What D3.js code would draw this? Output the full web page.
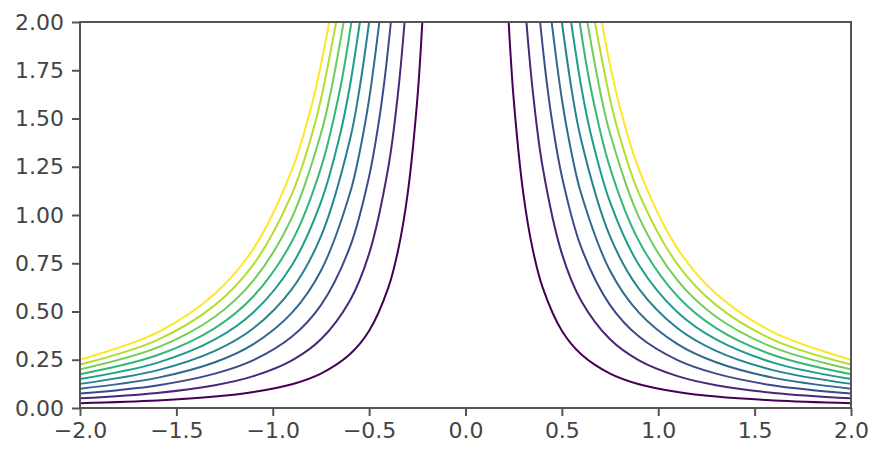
<!DOCTYPE html>
<html lang="en">
<head>
<meta charset="UTF-8">
<title>Contour lines</title>
<script src="https://d3js.org/d3.v7.min.js"></script>
<style>
    body { margin: 0; background: #fff; }
    svg { display: block; }
    .tick text { font-family: "DejaVu Sans", sans-serif; font-size: 22px; fill: #444; }
    .tick line { stroke: #555; stroke-width: 2px; }
    .domain { display: none; }
</style>
</head>
<body>
<div id="chart"></div>
<script>
// contour levels (one line per level, purple -> yellow)
const levels = [0.1, 0.2, 0.3, 0.4, 0.5, 0.6, 0.7, 0.8, 0.9, 1.0];

// right half of each contour line as [x, y]
// (the left half is the mirror image)
const curve01 = [[0.224, 2.0], [0.25, 1.6], [0.3, 1.111], [0.35, 0.816], [0.4, 0.625], [0.5, 0.4], [0.6, 0.278], [0.75, 0.178], [0.9, 0.123], [1.1, 0.083], [1.3, 0.059], [1.6, 0.039], [2.0, 0.025]];
const curve02 = [[0.316, 2.0], [0.35, 1.633], [0.4, 1.25], [0.5, 0.8], [0.6, 0.556], [0.75, 0.356], [0.9, 0.247], [1.1, 0.165], [1.3, 0.118], [1.6, 0.078], [2.0, 0.05]];
const curve03 = [[0.387, 2.0], [0.42, 1.70], [0.45, 1.481], [0.5, 1.2], [0.6, 0.833], [0.75, 0.533], [0.9, 0.370], [1.1, 0.248], [1.3, 0.178], [1.6, 0.117], [2.0, 0.075]];
const curve04 = [[0.447, 2.0], [0.5, 1.6], [0.55, 1.322], [0.6, 1.111], [0.75, 0.711], [0.9, 0.494], [1.1, 0.331], [1.3, 0.237], [1.6, 0.156], [2.0, 0.1]];
const curve05 = [[0.5, 2.0], [0.55, 1.653], [0.6, 1.389], [0.75, 0.889], [0.9, 0.617], [1.1, 0.413], [1.3, 0.296], [1.6, 0.195], [2.0, 0.125]];
const curve06 = [[0.548, 2.0], [0.6, 1.667], [0.65, 1.420], [0.75, 1.067], [0.9, 0.741], [1.1, 0.496], [1.3, 0.355], [1.6, 0.234], [2.0, 0.15]];
const curve07 = [[0.592, 2.0], [0.65, 1.657], [0.75, 1.244], [0.9, 0.864], [1.1, 0.579], [1.3, 0.414], [1.6, 0.273], [2.0, 0.175]];
const curve08 = [[0.632, 2.0], [0.7, 1.633], [0.75, 1.422], [0.9, 0.988], [1.1, 0.661], [1.3, 0.473], [1.6, 0.3125], [2.0, 0.2]];
const curve09 = [[0.671, 2.0], [0.75, 1.6], [0.8, 1.406], [0.9, 1.111], [1.1, 0.744], [1.3, 0.533], [1.6, 0.352], [2.0, 0.225]];
const curve10 = [[0.707, 2.0], [0.75, 1.778], [0.8, 1.5625], [0.9, 1.235], [1.1, 0.826], [1.3, 0.592], [1.6, 0.391], [2.0, 0.25]];
const curves = [curve01, curve02, curve03, curve04, curve05, curve06, curve07, curve08, curve09, curve10];

// tick labels
const xTicks = [-2.0, -1.5, -1.0, -0.5, 0.0, 0.5, 1.0, 1.5, 2.0];
const yTicks = [0.0, 0.25, 0.5, 0.75, 1.0, 1.25, 1.5, 1.75, 2.0];

const width = 871, height = 450;
const margin = { top: 22, right: 20, bottom: 42, left: 80 };

const svg = d3.select("#chart").append("svg")
    .attr("width", width)
    .attr("height", height);

const x = d3.scaleLinear().domain([-2, 2]).range([margin.left, width - margin.right]);
const y = d3.scaleLinear().domain([0, 2]).range([height - margin.bottom, margin.top]);

const color = d3.scaleSequential(d3.interpolateViridis)
    .domain([d3.min(levels), d3.max(levels)]);

const defs = svg.append("defs");
defs.append("clipPath").attr("id", "plot-clip")
    .append("rect")
    .attr("x", margin.left).attr("y", margin.top)
    .attr("width", width - margin.left - margin.right)
    .attr("height", height - margin.top - margin.bottom);

// the source image is a soft, upscaled raster: a light blur mimics it
defs.append("filter").attr("id", "soft")
    .append("feGaussianBlur").attr("stdDeviation", 0.5);

const line = d3.line()
    .x(d => x(d[0]))
    .y(d => y(d[1]))
    .curve(d3.curveCatmullRom);

const lines = svg.append("g")
    .attr("clip-path", "url(#plot-clip)")
    .append("g")
    .attr("filter", "url(#soft)");

curves.forEach((pts, i) => {
    const mirrored = pts.map(p => [-p[0], p[1]]);
    [pts, mirrored].forEach(half => {
        lines.append("path")
            .attr("d", line(half))
            .attr("fill", "none")
            .attr("stroke", color(levels[i]))
            .attr("stroke-width", 2);
    });
});

// axes
svg.append("g")
    .attr("transform", `translate(0,${height - margin.bottom})`)
    .call(d3.axisBottom(x).tickValues(xTicks).tickFormat(d3.format(".1f")).tickSize(8).tickPadding(6));

svg.append("g")
    .attr("transform", `translate(${margin.left},0)`)
    .call(d3.axisLeft(y).tickValues(yTicks).tickFormat(d3.format(".2f")).tickSize(8).tickPadding(8));

// frame
svg.append("rect")
    .attr("x", margin.left).attr("y", margin.top)
    .attr("width", width - margin.left - margin.right)
    .attr("height", height - margin.top - margin.bottom)
    .attr("fill", "none")
    .attr("stroke", "#555")
    .attr("stroke-width", 2);
</script>
</body>
</html>
